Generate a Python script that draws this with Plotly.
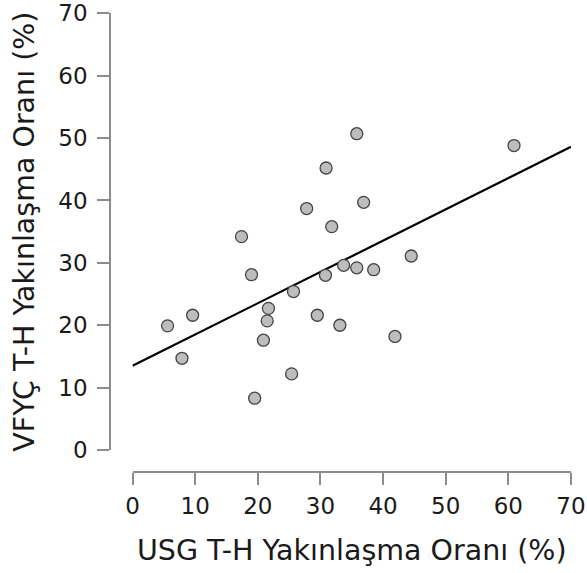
import plotly.graph_objects as go

# USG vs VFYC T-H yakinlasma orani (%)
usg = [5.6, 7.9, 9.6, 17.4, 19.0, 19.5, 20.9, 21.5, 21.7, 25.4, 25.7, 27.8, 29.5,
       30.8, 30.9, 31.8, 33.1, 33.7, 35.8, 35.8, 36.9, 38.5, 41.9, 44.5, 60.9]
vfyc = [19.9, 14.7, 21.6, 34.2, 28.1, 8.3, 17.6, 20.7, 22.7, 12.2, 25.4, 38.7, 21.6,
        28.0, 45.2, 35.8, 20.0, 29.6, 29.2, 50.7, 39.7, 28.9, 18.2, 31.1, 48.8]

# regression line
fit_x = [0, 70]
fit_y = [13.5, 48.6]

tick_vals = [0, 10, 20, 30, 40, 50, 60, 70]

W, H = 587, 573
FONT = "DejaVu Sans"


def px_x(x):
    return x / W


def px_y(y):
    return 1 - y / H


fig = go.Figure()
fig.add_trace(go.Scatter(
    x=fit_x, y=fit_y, mode="lines",
    line=dict(color="black", width=2.2),
    hoverinfo="skip",
))
fig.add_trace(go.Scatter(
    x=usg, y=vfyc, mode="markers",
    marker=dict(size=12, color="#bdbdbd", line=dict(color="#444444", width=1.3)),
))

axis_common = dict(
    tickvals=tick_vals,
    showgrid=False,
    zeroline=False,
    showline=True,
    linecolor="#8c8c8c",
    linewidth=1.5,
    ticks="outside",
    ticklen=12,
    tickwidth=1.5,
    tickcolor="#8c8c8c",
    tickfont=dict(family=FONT, size=23, color="#1a1a1a"),
    automargin=False,
    fixedrange=True,
)

fig.update_layout(
    width=W, height=H,
    margin=dict(l=0, r=0, t=0, b=0),
    paper_bgcolor="white",
    plot_bgcolor="white",
    showlegend=False,
    xaxis=dict(
        range=[0, 70],
        domain=[px_x(132.5), px_x(571)],
        anchor="free",
        position=px_y(472),
        ticklabelstandoff=2,
        title=dict(text="USG T-H Yakınlaşma Oranı (%)",
                   font=dict(family=FONT, size=28.5, color="#1a1a1a"),
                   standoff=21),
        **axis_common,
    ),
    yaxis=dict(
        range=[0, 70],
        domain=[px_y(450), px_y(13.3)],
        anchor="free",
        position=px_x(110),
        ticklabelstandoff=5,
        title=dict(text="VFYÇ T-H Yakınlaşma Oranı (%)",
                   font=dict(family=FONT, size=28.5, color="#1a1a1a"),
                   standoff=14),
        **axis_common,
    ),
)

# drop the default 8px body margin so the figure fills the window
fig.write_html(
    "out.html",
    config={"displayModeBar": False},
    post_script="document.body.style.margin='0px';",
)
